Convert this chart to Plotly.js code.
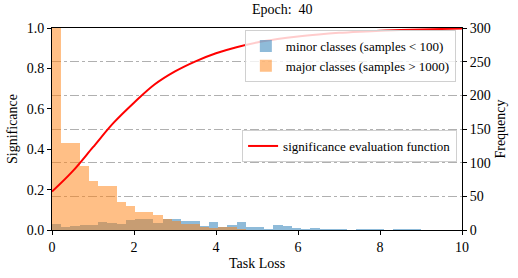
<!DOCTYPE html>
<html>
<head>
<meta charset="utf-8">
<script src="https://cdn.plot.ly/plotly-3.0.1.min.js"></script>
<style>html,body{margin:0;padding:0;background:#fff;}#chart{width:518px;height:278px;}</style>
</head>
<body>
<div id="chart"></div>
<script>
// histogram bin centers (bin width 0.225)
const binCenters = [0.1125,0.3375,0.5625,0.7875,1.0125,1.2375,1.4625,1.6875,1.9125,2.1375,
  2.3625,2.5875,2.8125,3.0375,3.2625,3.4875,3.7125,3.9375,4.1625,4.3875,
  4.6125,4.8375,5.0625,5.2875,5.5125,5.7375,5.9625,6.1875,6.4125,6.6375,
  6.8625,7.0875,7.3125,7.5375,7.7625,7.9875,8.2125,8.4375,8.6625,8.8875];
const binWidth = 0.225;
// frequency of minor classes (samples < 100)
const minorFreq = [9,5,6,7,8,12,10,9,15,17,16,10,16,16,14,14,6,12,4,8,
  12,4,4,2,8,6,3,2,3,2,1,1,0,1,1,2,0,1,2,1];
// frequency of major classes (samples > 1000)
const majorFreq = [340,129,129,95,73,65,65,42,36,26,26,23,16,14,9,9,4,3,4,4,1];
// significance evaluation function samples
const lossX = [0,0.5,1,1.5,2,2.5,3,3.5,4,4.5,5,5.5,6,6.5,7,7.5,8,8.5,9,9.5,10];
const significance = [0.19,0.29,0.41,0.53,0.63,0.72,0.785,0.835,0.875,0.905,0.928,0.945,0.958,0.968,0.976,0.982,0.987,0.99,0.993,0.995,0.997];
const leftTicks = [0,0.2,0.4,0.6,0.8,1.0];
const rightTicks = [0,50,100,150,200,250,300];
const xTicks = [0,2,4,6,8,10];

const serif = "Liberation Serif";

const traces = [
  {type:'bar', x: binCenters, y: minorFreq, width: binWidth, name:'minor classes (samples < 100)',
   marker:{color:'rgba(31,119,180,0.5)', line:{width:0}}, yaxis:'y', legend:'legend', hoverinfo:'skip'},
  {type:'bar', x: binCenters.slice(0, majorFreq.length), y: majorFreq, width: binWidth, name:'major classes (samples > 1000)',
   marker:{color:'rgba(255,127,14,0.5)', line:{width:0}}, yaxis:'y', legend:'legend', hoverinfo:'skip'},
  {type:'scatter', mode:'lines', x: lossX, y: significance, name:'significance evaluation function',
   line:{color:'#ff0000', width:2, shape:'spline'}, yaxis:'y2', legend:'legend2', hoverinfo:'skip'}
];

const layout = {
  width:518, height:278,
  margin:{l:52, r:56, t:28, b:48},
  paper_bgcolor:'#fff', plot_bgcolor:'#fff',
  barmode:'overlay', bargap:0,
  font:{family:serif, size:13, color:'#000'},
  title:{text:'Epoch:\u00a0\u00a040', font:{family:serif, size:14, color:'#000'}, x:0.545, xanchor:'center', y:0.985, yanchor:'top'},
  xaxis:{range:[0,10], tickvals:xTicks, ticks:'outside', ticklen:4, tickwidth:1, tickcolor:'#000',
    showline:true, linecolor:'#000', linewidth:1, mirror:true, showgrid:false, zeroline:false,
    tickfont:{family:serif, size:14}, title:{text:'Task Loss', font:{family:serif, size:14}, standoff:4}},
  yaxis:{range:[0,300], tickvals:rightTicks, side:'right', ticks:'outside', ticklen:4, tickcolor:'#000',
    showline:true, linecolor:'#000', linewidth:1, showgrid:true, gridcolor:'#b0b0b0', griddash:'dashdot', gridwidth:1,
    zeroline:false, tickfont:{family:serif, size:14}, layer:'above traces',
    title:{text:'Frequency', font:{family:serif, size:14}, standoff:5}},
  yaxis2:{range:[0,1], tickvals:leftTicks, tickformat:'.1f', overlaying:'y', side:'left', ticks:'outside', ticklen:4, tickcolor:'#000',
    showline:true, linecolor:'#000', linewidth:1, showgrid:false, zeroline:false, tickfont:{family:serif, size:14},
    title:{text:'Significance', font:{family:serif, size:14}, standoff:5}},
  legend:{x:0.985, xanchor:'right', y:0.99, yanchor:'top', bgcolor:'rgba(255,255,255,0.8)', bordercolor:'#d0d0d0', borderwidth:1,
    font:{family:serif, size:13}, tracegroupgap:0},
  legend2:{x:0.988, xanchor:'right', y:0.495, yanchor:'top', bgcolor:'rgba(255,255,255,0.8)', bordercolor:'#d0d0d0', borderwidth:1,
    font:{family:serif, size:13}},
  showlegend:true
};

Plotly.newPlot('chart', traces, layout, {displayModeBar:false, staticPlot:true});
</script>
</body>
</html>
